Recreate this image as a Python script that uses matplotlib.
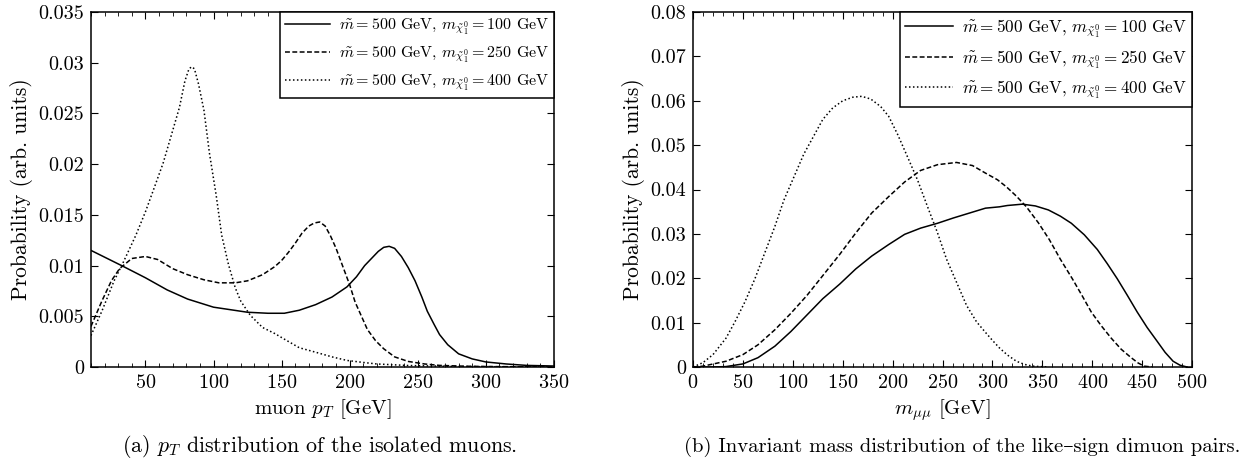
import matplotlib
matplotlib.use("Agg")
import matplotlib.pyplot as plt
from matplotlib.ticker import MultipleLocator

plt.rcParams["font.family"] = ["cmr10", "DejaVu Serif"]
plt.rcParams["mathtext.fontset"] = "cm"
plt.rcParams["axes.formatter.use_mathtext"] = True

# (a) muon pT distributions
pt_x_100 = [10, 22, 34, 50, 66, 81, 100, 115, 125, 140, 152, 163, 175, 187, 198, 205,
            211, 216, 221, 225, 229, 233, 238, 243, 248, 253, 257, 262, 266, 272,
            280, 290, 300, 315, 330, 350]
pt_y_100 = [.0115, .0107, .0099, .0088, .0076, .0067, .0059, .0056, .0054, .0053,
            .0053, .0056, .00615, .0069, .0079, .0089, .0100, .0107, .0114, .0118,
            .0119, .0117, .0109, .0098, .0085, .0069, .0055, .0042, .0032, .0022,
            .0013, .0008, .0005, .0003, .00016, .0001]

pt_x_250 = [10, 18, 25, 31, 40, 50, 59, 70, 81, 93, 104, 116, 125, 136, 145, 150,
            155, 160, 165, 170, 174, 178, 182, 186, 190, 195, 200, 204, 209, 213,
            219, 225, 233, 243, 255, 266, 285, 300, 350]
pt_y_250 = [.0040, .0065, .0085, .0097, .0107, .0109, .0106, .0097, .0091, .0086,
            .0083, .0083, .0085, .0091, .0099, .0105, .0113, .0122, .0132, .0139,
            .0142, .0143, .0139, .0129, .0117, .0099, .0081, .0064, .0049, .0037,
            .0026, .0018, .0010, .00055, .0003, .00016, .00008, .00005, 0]

pt_x_400 = [10, 18, 27, 34, 43, 50, 56, 63, 70, 75, 79, 82, 84, 86, 89, 93, 97, 102,
            106, 111, 116, 120, 127, 136, 145, 152, 163, 175, 187, 198, 210, 220,
            243, 280, 350]
pt_y_400 = [.0031, .0055, .0085, .0104, .0130, .0153, .0175, .0201, .0233, .0256,
            .0282, .0294, .0296, .0294, .0279, .0253, .0211, .0169, .0130, .0101,
            .0078, .0065, .0051, .0039, .0033, .00275, .0019, .00146, .0010,
            .00065, .00045, .0003, .00015, .00005, 0]

# (b) invariant mass distributions
m_x_100 = [0, 20, 33, 50, 65, 82, 98, 114, 130, 147, 163, 179, 196, 212, 228, 245,
           261, 277, 293, 307, 315, 330, 343, 356, 368, 379, 392, 405, 415, 425,
           435, 445, 455, 465, 473, 481, 488, 495]
m_y_100 = [0, 0, .0001, .0007, .0021, .0047, .0080, .0117, .0154, .0187, .0221,
           .0250, .0276, .0299, .0313, .0324, .0336, .0347, .0358, .0361, .0364,
           .0367, .0363, .0354, .0340, .0324, .0298, .0265, .0233, .0199, .0162,
           .0124, .0089, .0058, .0033, .0013, .0004, 0]

m_x_250 = [0, 10, 33, 50, 65, 82, 98, 114, 130, 147, 163, 179, 196, 212, 228, 245,
           264, 280, 293, 305, 314, 324, 334, 346, 357, 368, 380, 390, 399, 409,
           419, 429, 439, 446, 452, 460]
m_y_250 = [0, .0002, .0013, .0028, .0050, .0084, .0121, .0161, .0206, .0254, .0302,
           .0347, .0384, .0417, .0443, .0456, .0461, .0454, .0437, .0422, .0406,
           .0385, .0361, .0325, .0287, .0243, .0199, .0160, .0124, .0093, .0065,
           .0040, .0021, .0009, .0002, 0]

m_x_400 = [0, 10, 20, 33, 42, 52, 62, 72, 82, 91, 101, 111, 121, 130, 140, 150, 160,
           169, 178, 188, 196, 205, 215, 225, 235, 245, 254, 264, 274, 284, 293,
           300, 307, 315, 324, 332, 340, 356]
m_y_400 = [0, .0010, .0028, .0065, .0102, .0147, .0199, .0258, .0317, .0376, .0428,
           .0480, .0521, .0558, .0584, .0600, .0608, .0610, .0604, .0587, .0565,
           .0524, .0473, .0421, .0361, .0302, .0243, .0191, .0139, .0102, .0078,
           .0060, .0043, .0027, .0013, .0006, .0002, 0]

labels = [r"$\tilde{m} = 500$ GeV, $m_{\tilde{\chi}_1^0} = %d$ GeV" % m
          for m in (100, 250, 400)]
styles = ["-", (0, (3.2, 1.6)), (0, (1, 1.6))]

fig = plt.figure(figsize=(12.51, 4.66), dpi=100)
ax1 = fig.add_axes([0.0727, 0.2124, 0.3701, 0.7618])
ax2 = fig.add_axes([0.554, 0.2124, 0.3989, 0.7618])

for xs, ys, ls, lab in zip([pt_x_100, pt_x_250, pt_x_400],
                           [pt_y_100, pt_y_250, pt_y_400], styles, labels):
    ax1.plot(xs, ys, color="black", lw=1.1, linestyle=ls, label=lab)

for xs, ys, ls, lab in zip([m_x_100, m_x_250, m_x_400],
                           [m_y_100, m_y_250, m_y_400], styles, labels):
    ax2.plot(xs, ys, color="black", lw=1.1, linestyle=ls, label=lab)

ax1.set_xlim(10, 350)
ax1.set_ylim(0, 0.035)
ax1.set_xticks([50, 100, 150, 200, 250, 300, 350])
ax1.set_yticks([0, 0.005, 0.01, 0.015, 0.02, 0.025, 0.03, 0.035])
ax1.set_yticklabels(["0", "0.005", "0.01", "0.015", "0.02", "0.025", "0.03", "0.035"])
ax1.set_xlabel(r"muon $p_T$ [GeV]", fontsize=15)
ax1.set_ylabel("Probability (arb. units)", fontsize=15.5)

ax2.set_xlim(0, 500)
ax2.set_ylim(0, 0.08)
ax2.set_xticks(range(0, 501, 50))
ax2.set_yticks([0, 0.01, 0.02, 0.03, 0.04, 0.05, 0.06, 0.07, 0.08])
ax2.set_yticklabels(["0", "0.01", "0.02", "0.03", "0.04", "0.05", "0.06", "0.07", "0.08"])
ax2.set_xlabel(r"$m_{\mu\mu}$ [GeV]", fontsize=15)
ax2.set_ylabel("Probability (arb. units)", fontsize=15.5)

for ax, fs in ((ax1, 11.5), (ax2, 12.3)):
    ax.xaxis.set_minor_locator(MultipleLocator(10))
    ax.tick_params(which="both", direction="in", top=True, right=True,
                   labelsize=14.5, pad=5)
    ax.tick_params(which="major", length=5, width=0.8)
    ax.tick_params(which="minor", length=3, width=0.6)
    ax.tick_params(axis="y", which="minor", left=False, right=False)
    for s in ax.spines.values():
        s.set_linewidth(1.1)
    leg = ax.legend(loc="upper right", fontsize=fs, borderaxespad=0,
                    fancybox=False, edgecolor="black", framealpha=1,
                    handlelength=2.8, handletextpad=0.55, labelspacing=0.45,
                    borderpad=0.3)
    leg.get_frame().set_linewidth(1.1)

fig.text(0.2558, 0.03, r"(a) $p_T$ distribution of the isolated muons.",
         ha="center", fontsize=15.8)
fig.text(0.769, 0.03,
         "(b) Invariant mass distribution of the like\u2013sign dimuon pairs.",
         ha="center", fontsize=14.9)

fig.savefig("out.png", dpi=100)
